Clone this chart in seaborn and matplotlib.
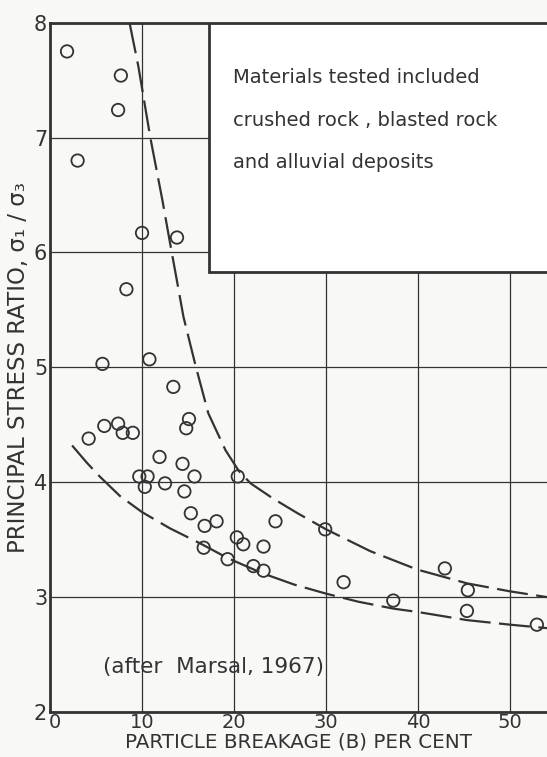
import matplotlib
matplotlib.use("Agg")
import matplotlib.pyplot as plt
import matplotlib.transforms as mtransforms
import seaborn as sns
import pandas as pd
from matplotlib.patches import Rectangle

# Observed points: particle breakage B (%) and principal stress ratio
breakage = [1.85, 7.7, 7.4, 3.0, 10.0, 13.8, 8.3, 5.7, 10.8,
            13.4, 4.2, 5.9, 7.4, 7.9, 9.0, 15.1, 14.8, 11.9, 14.4, 15.7,
            9.7, 10.6, 10.3, 12.5, 14.6, 20.4, 15.3, 16.8, 18.1, 16.7,
            19.3, 20.3, 21.0, 23.2, 22.1, 23.2, 24.5, 29.9, 31.9, 37.3,
            42.9, 45.4, 45.3, 52.9]
ratio = [7.75, 7.54, 7.24, 6.80, 6.17, 6.13, 5.68, 5.03, 5.07,
         4.83, 4.38, 4.49, 4.51, 4.43, 4.43, 4.55, 4.47, 4.22, 4.16, 4.05,
         4.05, 4.05, 3.96, 3.99, 3.92, 4.05, 3.73, 3.62, 3.66, 3.43,
         3.33, 3.52, 3.46, 3.44, 3.27, 3.23, 3.66, 3.59, 3.13, 2.97,
         3.25, 3.06, 2.88, 2.76]

# Upper and lower dashed envelope curves
upper_b = [8.64, 9.6, 10.9, 12.2, 13.07, 13.8, 14.5, 15.8, 17.2, 19.06,
           20.5, 21.8, 24.2, 26.9, 30.0, 34.8, 39.9, 45.3, 50.0, 54.0]
upper_r = [8.0, 7.62, 7.0, 6.46, 6.07, 5.75, 5.44, 5.02, 4.6, 4.28,
           4.1, 3.99, 3.86, 3.73, 3.59, 3.40, 3.24, 3.12, 3.05, 3.0]
lower_b = [2.4, 4.0, 5.4, 7.6, 10.0, 13.0, 16.5, 19.3, 23.0, 26.5,
           30.0, 33.5, 37.3, 40.0, 45.3, 50.0, 54.0]
lower_r = [4.32, 4.17, 4.05, 3.88, 3.74, 3.6, 3.46, 3.34, 3.21, 3.11,
           3.03, 2.96, 2.9, 2.87, 2.8, 2.76, 2.73]

x_ticks = [0, 10, 20, 30, 40, 50]
y_ticks = [2, 3, 4, 5, 6, 7, 8]
note_lines = ["Materials tested included",
              "crushed rock , blasted rock",
              "and alluvial deposits"]
source_note = "(after  Marsal, 1967)"
x_label = "PARTICLE BREAKAGE (B) PER CENT"
y_label = "PRINCIPAL STRESS RATIO, σ\u2081 / σ\u2083"

ink = "#333333"
paper = "#f8f8f6"

sns.set_theme(style="white")
plt.rcParams["font.family"] = ["DejaVu Sans"]

fig = plt.figure(figsize=(5.47, 7.57), dpi=100, facecolor=paper)
ax = fig.add_axes([50 / 547, 45 / 757, 1 - 50 / 547, (712 - 22.7) / 757])
ax.set_facecolor(paper)

pts = pd.DataFrame({"B": breakage, "R": ratio})
up = pd.DataFrame({"B": upper_b, "R": upper_r})
lo = pd.DataFrame({"B": lower_b, "R": lower_r})

for df in (up, lo):
    sns.lineplot(data=df, x="B", y="R", sort=False, ax=ax, color=ink,
                 lw=1.6, estimator=None, zorder=3)
    ln = ax.lines[-1]
    ln.set_dashes((14, 3.8))
    ln.set_dash_capstyle("butt")
    ln.set_solid_joinstyle("round")

sns.scatterplot(data=pts, x="B", y="R", ax=ax, marker="o", s=80,
                facecolor="none", edgecolor=ink, linewidth=1.3, zorder=4)

ax.set_xlim(0, 54)
ax.set_ylim(2, 8)
ax.set_xticks(x_ticks)
ax.set_yticks(y_ticks)
ax.set_xticklabels([str(t) for t in x_ticks], fontsize=14, color=ink)
ax.set_yticklabels([str(t) for t in y_ticks], fontsize=15, color=ink)
ax.tick_params(axis="y", length=0, pad=2)
ax.tick_params(axis="x", length=0, pad=0.5)
# nudge the "0" x-label right, as in the original lettering
off = mtransforms.ScaledTranslation(5 / 100, 0, fig.dpi_scale_trans)
xl0 = ax.get_xticklabels()[0]
xl0.set_transform(xl0.get_transform() + off)

ax.grid(True, color=ink, lw=0.9)
ax.set_axisbelow(True)
for side in ["left", "bottom", "top"]:
    ax.spines[side].set_color(ink)
    ax.spines[side].set_linewidth(2.0)
ax.spines["right"].set_visible(False)

ax.set_xlabel(x_label, fontsize=14.3, color=ink, labelpad=0.5)
ax.set_ylabel(y_label, fontsize=16.5, color=ink, labelpad=3)

# Note box (white panel covering the grid)
box = Rectangle((17.24, 5.833), 40, 2.5, facecolor="white", edgecolor=ink,
                lw=2.0, zorder=2.5)
ax.add_patch(box)
for i, line in enumerate(note_lines):
    ax.text(19.9, 7.52 - i * 0.37, line, fontsize=14, color=ink,
            va="center", ha="left", zorder=5)

ax.text(5.8, 2.39, source_note, fontsize=15.5, color=ink, va="center",
        ha="left", zorder=5)

fig.savefig("out.png", dpi=100, facecolor=paper)
